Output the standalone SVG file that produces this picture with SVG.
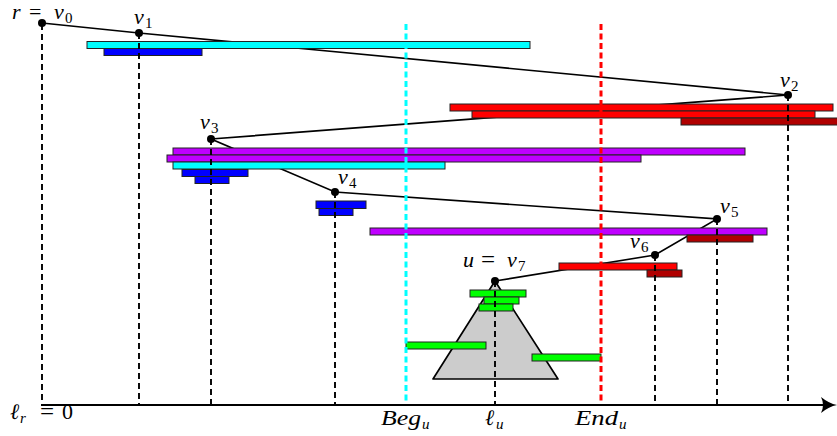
<svg xmlns="http://www.w3.org/2000/svg" width="837" height="436" viewBox="0 0 837 436">
<style>
  .bar { stroke: #222; stroke-width: 1; }
  .cy { fill: #00ffff; }
  .bl { fill: #0000ff; }
  .rd { fill: #ff0000; }
  .dr { fill: #b00000; }
  .pu { fill: #bf00ff; }
  .gr { fill: #00ff00; }
  .guide { stroke: #000; stroke-width: 1.9; stroke-dasharray: 6 4; fill: none; }
  .edge { stroke: #000; stroke-width: 1.7; fill: none; }
  .dot { fill: #000; }
  text { font-family: "Liberation Serif", "DejaVu Serif", serif; font-size: 22px; fill: #000; }
  .it { font-style: italic; }
  .sub { font-size: 15px; }
  .eq { font-size: 25px; }
</style>

<!-- connectors: the path r=v0 ... v7 -->
<g id="connectors">
  <polyline class="edge" points="42,23 139,33 788,95 211,139 335,192 717,219 655,255 495,281"/>
</g>

<!-- subtree triangle of u -->
<g id="subtree-u">
  <polygon points="495,281 433,379 558,379" fill="#cccccc" stroke="#000" stroke-width="1.7" stroke-linejoin="round"/>
</g>

<!-- intervals -->
<g id="bars-v1">
  <rect class="bar cy" x="87" y="41.5" width="443" height="7"/>
  <rect class="bar bl" x="104" y="48.5" width="98" height="7"/>
</g>
<g id="bars-v2">
  <rect class="bar rd" x="450" y="104" width="383" height="7"/>
  <rect class="bar rd" x="472" y="111" width="343" height="7"/>
  <rect class="bar dr" x="681" y="118" width="158" height="7"/>
</g>
<g id="bars-v3">
  <rect class="bar pu" x="173" y="148" width="572" height="7"/>
  <rect class="bar pu" x="167" y="155" width="474" height="7"/>
  <rect class="bar cy" x="173" y="162" width="272" height="7"/>
  <rect class="bar bl" x="182" y="169.5" width="66" height="7"/>
  <rect class="bar bl" x="195" y="176.5" width="34" height="7"/>
</g>
<g id="bars-v4">
  <rect class="bar bl" x="316" y="201" width="50" height="7.5"/>
  <rect class="bar bl" x="319" y="208.5" width="34" height="7"/>
</g>
<g id="bars-v5">
  <rect class="bar pu" x="370" y="228" width="397" height="7"/>
  <rect class="bar dr" x="687" y="235" width="66" height="7"/>
</g>
<g id="bars-v6">
  <rect class="bar rd" x="559" y="263" width="118" height="7"/>
  <rect class="bar dr" x="647" y="270" width="35" height="7"/>
</g>
<g id="bars-v7">
  <rect class="bar gr" x="470" y="290" width="56" height="7"/>
  <rect class="bar gr" x="484" y="297" width="35" height="7"/>
  <rect class="bar gr" x="479" y="304" width="34" height="7"/>
  <rect class="bar gr" x="406" y="342" width="80" height="7"/>
  <rect class="bar gr" x="532" y="354" width="69" height="7"/>
</g>

<!-- vertical guides -->
<g id="guides">
  <line class="guide" x1="42" y1="24" x2="42" y2="405"/>
  <line class="guide" x1="139" y1="33" x2="139" y2="405"/>
  <line class="guide" x1="211" y1="139" x2="211" y2="405"/>
  <line class="guide" x1="335" y1="192" x2="335" y2="405"/>
  <line class="guide" x1="495" y1="281" x2="495" y2="405"/>
  <line class="guide" x1="655" y1="255" x2="655" y2="405"/>
  <line class="guide" x1="717" y1="219" x2="717" y2="405"/>
  <line class="guide" x1="788" y1="95" x2="788" y2="405"/>
  <line id="beg-line" x1="406" y1="24" x2="406" y2="405" stroke="#00ffff" stroke-width="3" stroke-dasharray="6 3.5"/>
  <line id="end-line" x1="601" y1="24" x2="601" y2="405" stroke="#ff0000" stroke-width="3" stroke-dasharray="6 3.5"/>
</g>

<!-- axis -->
<g id="axis">
  <line x1="41" y1="405" x2="828" y2="405" stroke="#000" stroke-width="2.2"/>
  <path d="M821,397 Q829,403.5 837,405 Q829,406.5 821,413 Q825,405 821,397 Z" fill="#000"/>
  <text x="10" y="419"><tspan class="it">ℓ</tspan><tspan class="it sub" x="20" y="423">r</tspan><tspan class="eq" x="40" y="420">=</tspan><tspan x="62" y="419">0</tspan></text>
  <text x="381" y="425"><tspan class="it" textLength="40" lengthAdjust="spacingAndGlyphs">Beg</tspan><tspan class="it sub" x="422" y="429">u</tspan></text>
  <text x="485" y="425"><tspan class="it">ℓ</tspan><tspan class="it sub" x="496" y="429">u</tspan></text>
  <text x="575" y="425"><tspan class="it" textLength="43" lengthAdjust="spacingAndGlyphs">End</tspan><tspan class="it sub" x="619" y="429">u</tspan></text>
</g>

<!-- nodes -->
<g id="v0">
  <circle class="dot" cx="42" cy="23" r="4"/>
  <text x="12" y="19"><tspan class="it">r</tspan><tspan x="29" y="19">=</tspan><tspan class="it" x="54" y="19">v</tspan><tspan class="sub" x="65" y="23">0</tspan></text>
</g>
<g id="v1">
  <circle class="dot" cx="139" cy="33" r="4"/>
  <text x="134" y="24"><tspan class="it">v</tspan><tspan class="sub" x="145" y="28">1</tspan></text>
</g>
<g id="v2">
  <circle class="dot" cx="788" cy="95" r="4"/>
  <text x="780" y="87"><tspan class="it">v</tspan><tspan class="sub" x="791" y="91">2</tspan></text>
</g>
<g id="v3">
  <circle class="dot" cx="211" cy="139" r="4"/>
  <text x="200" y="129"><tspan class="it">v</tspan><tspan class="sub" x="211" y="133">3</tspan></text>
</g>
<g id="v4">
  <circle class="dot" cx="335" cy="192" r="4"/>
  <text x="338" y="184"><tspan class="it">v</tspan><tspan class="sub" x="349" y="188">4</tspan></text>
</g>
<g id="v5">
  <circle class="dot" cx="717" cy="219" r="4"/>
  <text x="720" y="213"><tspan class="it">v</tspan><tspan class="sub" x="731" y="217">5</tspan></text>
</g>
<g id="v6">
  <circle class="dot" cx="655" cy="255" r="4"/>
  <text x="630" y="248"><tspan class="it">v</tspan><tspan class="sub" x="641" y="252">6</tspan></text>
</g>
<g id="v7">
  <circle class="dot" cx="495" cy="281" r="4"/>
  <text x="463" y="267"><tspan class="it">u</tspan><tspan class="eq" x="481" y="268">=</tspan><tspan class="it" x="507" y="267">v</tspan><tspan class="sub" x="518" y="271">7</tspan></text>
</g>
</svg>
